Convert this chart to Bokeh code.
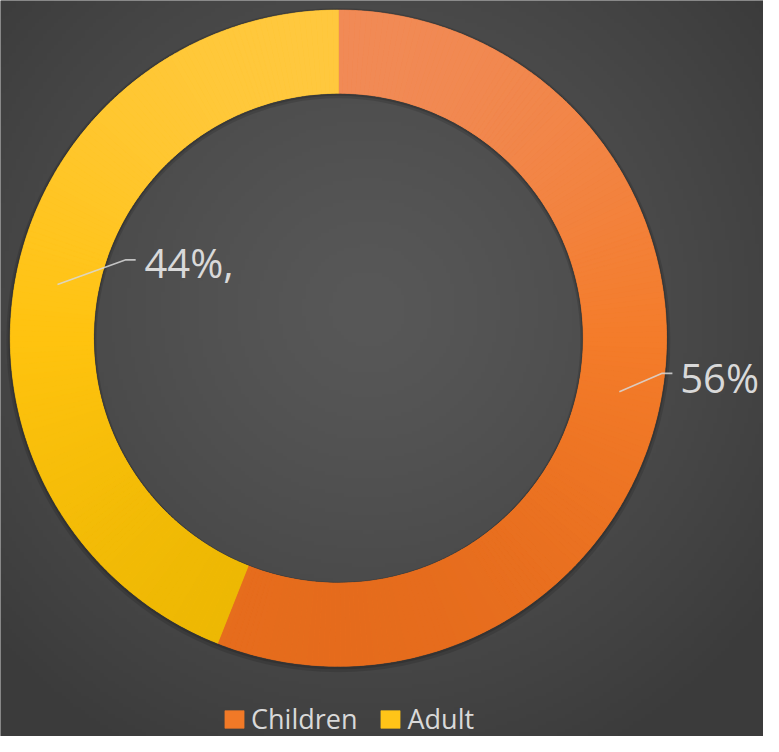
import numpy as np
from bokeh.plotting import figure
from bokeh.models import ColumnDataSource, Legend, LegendItem, Range1d
from bokeh.embed import file_html
from bokeh.resources import INLINE
from bokeh.core.properties import value

# ---- data ----
categories = ["Children", "Adult"]
shares = [56, 44]
label_texts = ["56%", "44%,"]

# ---- style ----
gradients = {
    "Children": ["#F08C5C", "#F47C2A", "#E3691A"],
    "Adult": ["#FFC945", "#FFC30F", "#E9B500"],
}
FONT = "Open Sans"
TXT = "#D9D9D9"
R_OUT, R_IN = 335, 250

W, H = 763, 736
# coordinates: reference pixels, origin at the ring centre, y up
X0, X1 = -345, 434
Y0, Y1 = -407, 345

p = figure(width=W, height=H, x_range=Range1d(X0, X1), y_range=Range1d(Y0, Y1),
           output_backend="svg", toolbar_location=None, min_border=0,
           outline_line_color=None)
p.axis.visible = False
p.grid.visible = False
p.background_fill_color = "#474747"
p.border_fill_color = "#474747"

# background radial gradient
nx, ny = 200, 200
gx, gy = np.meshgrid(np.linspace(X0, X1, nx), np.linspace(Y0, Y1, ny))
d = np.hypot(gx - 30, gy - 30)
v = 0x58 - (0x58 - 0x3B) * np.clip(d / 520.0, 0, 1) ** 1.3
img = np.empty((ny, nx), dtype=np.uint32)
view = img.view(dtype=np.uint8).reshape((ny, nx, 4))
view[..., 0] = v.astype(np.uint8)
view[..., 1] = v.astype(np.uint8)
view[..., 2] = v.astype(np.uint8)
view[..., 3] = 255
p.image_rgba(image=[img], x=X0, y=Y0, dw=X1 - X0, dh=Y1 - Y0)

# soft shadow
p.annular_wedge(x=0, y=-2, inner_radius=R_IN - 3, outer_radius=R_OUT + 4,
                start_angle=0, end_angle=2 * np.pi, fill_color="black",
                fill_alpha=0.12, line_color=None)
p.annular_wedge(x=0, y=-1, inner_radius=R_IN - 1.5, outer_radius=R_OUT + 2,
                start_angle=0, end_angle=2 * np.pi, fill_color="black",
                fill_alpha=0.15, line_color=None)


def hex2rgb(h):
    h = h.lstrip("#")
    return np.array([int(h[i:i + 2], 16) for i in (0, 2, 4)], dtype=float)


def grad(stops, t):
    c = [hex2rgb(s) for s in stops]
    t = min(max(t, 0.0), 1.0)
    if t < 0.5:
        col = c[0] + (c[1] - c[0]) * (t / 0.5)
    else:
        col = c[1] + (c[2] - c[1]) * ((t - 0.5) / 0.5)
    return "#%02x%02x%02x" % tuple(int(round(x)) for x in col)


total = float(sum(shares))
start = np.pi / 2
renderers = []
mids = []
for cat, s in zip(categories, shares):
    span = 2 * np.pi * s / total
    # base slice in the middle colour (hides seams between gradient strips)
    p.annular_wedge(x=0, y=0, inner_radius=R_IN, outer_radius=R_OUT,
                    start_angle=start - span, end_angle=start,
                    fill_color=gradients[cat][1], line_color=None)
    n = max(2, int(np.ceil(s / total * 360)))
    edges = start - np.linspace(0, span, n + 1)
    src = dict(start=[], end=[], color=[])
    for a0, a1 in zip(edges[:-1], edges[1:]):
        m = (a0 + a1) / 2
        y = (R_OUT + R_IN) / 2 * np.sin(m)
        t = (R_OUT - y) / (2 * R_OUT)
        src["start"].append(a1)
        src["end"].append(a0)
        src["color"].append(grad(gradients[cat], t))
    r = p.annular_wedge(x=0, y=0, inner_radius=R_IN, outer_radius=R_OUT,
                        start_angle="start", end_angle="end",
                        source=ColumnDataSource(src), fill_color="color",
                        line_color="color", line_width=0.6)
    renderers.append((cat, r, n))
    mids.append(start - span / 2)
    start -= span

# leader lines and labels
anchors = [((330, -36), (341, -36), (349, -40)),
           ((-217, 80), (-207, 80), (-198, 77))]
for m, (bend, end, tpos), txt in zip(mids, anchors, label_texts):
    sx, sy = 292 * np.cos(m), 292 * np.sin(m)
    p.line([sx, bend[0], end[0]], [sy, bend[1], end[1]],
           line_color="#D8D8D8", line_alpha=0.85, line_width=1.6)
    p.text(x=[tpos[0]], y=[tpos[1]], text=[txt], text_font=value(FONT),
           text_font_size="40px", text_color=TXT, text_align="left",
           text_baseline="middle")

items = [LegendItem(label=cat, renderers=[r], index=n // 2) for cat, r, n in renderers]
legend = Legend(items=items, orientation="horizontal", location=(222, -1),
                glyph_width=24, glyph_height=22, label_height=22,
                label_standoff=5, spacing=21, padding=0, margin=0,
                label_text_font=FONT, label_text_font_size="27px",
                label_text_color=TXT, background_fill_alpha=0,
                border_line_alpha=0)
p.add_layout(legend, "center")

open("out.html", "w").write(file_html(p, INLINE))
